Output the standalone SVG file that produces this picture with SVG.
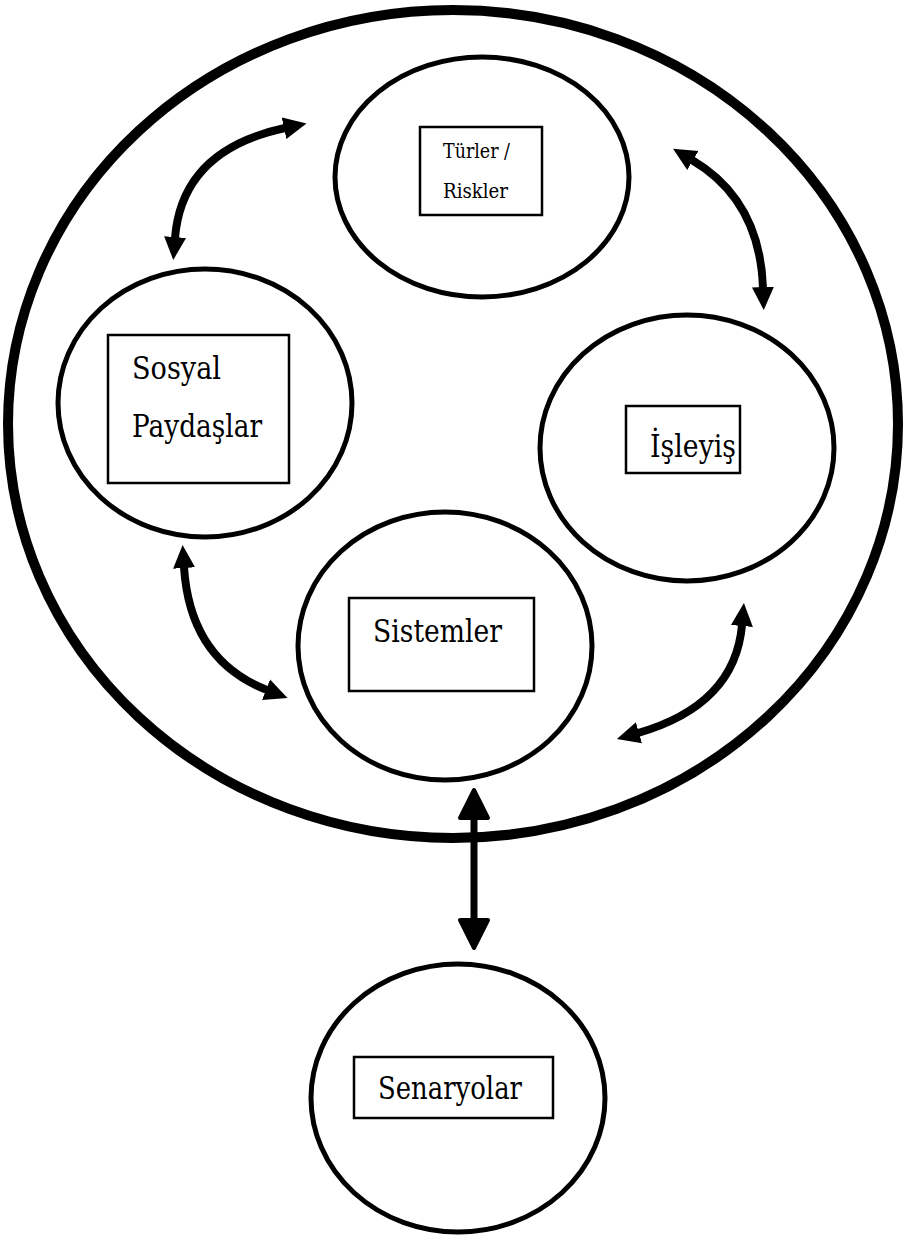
<svg xmlns="http://www.w3.org/2000/svg" width="905" height="1239" viewBox="0 0 905 1239">
  <style>
    .bg { fill: #ffffff; }
    .outer { fill: none; stroke: #000; stroke-width: 10; }
    .node { fill: none; stroke: #000; stroke-width: 5; }
    .box { fill: #fff; stroke: #000; stroke-width: 2.5; }
    text { font-family: 'DejaVu Serif', serif; fill: #000; }
    .label { font-size: 31px; }
    .label-sm { font-size: 21px; }
    .curve { fill: none; stroke: #000; stroke-width: 8; }
    .shaft { fill: none; stroke: #000; stroke-width: 7; }
  </style>
  <defs>
    <marker id="tri" viewBox="0 -12 24 24" refX="1" refY="0" markerWidth="24" markerHeight="24" markerUnits="userSpaceOnUse" orient="auto-start-reverse">
      <path d="M0,-11 L23,0 L0,11 Z" fill="#000"/>
    </marker>
    <marker id="blunt" viewBox="-2 -18 34 36" refX="2" refY="0" markerWidth="34" markerHeight="36" markerUnits="userSpaceOnUse" orient="auto-start-reverse">
      <path d="M0,-14 L28,0 L0,14 Z" fill="#000" stroke="#000" stroke-width="4" stroke-linejoin="round"/>
    </marker>
  </defs>

  <rect class="bg" x="0" y="0" width="905" height="1239"/>

  <!-- enclosing boundary -->
  <g id="boundary">
    <ellipse class="outer" cx="453" cy="424" rx="445" ry="414"/>
  </g>

  <g id="turler">
    <ellipse class="node" cx="482" cy="177" rx="147" ry="120"/>
    <rect class="box" x="420" y="127" width="122" height="88" stroke-width="3"/>
    <text class="label-sm" x="443" y="158" textLength="67" lengthAdjust="spacingAndGlyphs">Türler /</text>
    <text class="label-sm" x="443" y="198" textLength="65" lengthAdjust="spacingAndGlyphs">Riskler</text>
  </g>

  <g id="sosyal">
    <ellipse class="node" cx="205" cy="403" rx="147" ry="134"/>
    <rect class="box" x="108" y="335" width="181" height="148"/>
    <text class="label" x="132" y="379" textLength="89" lengthAdjust="spacingAndGlyphs">Sosyal</text>
    <text class="label" x="132" y="437" textLength="130" lengthAdjust="spacingAndGlyphs">Paydaşlar</text>
  </g>

  <g id="isleyis">
    <ellipse class="node" cx="687" cy="448" rx="147" ry="133"/>
    <rect class="box" x="626" y="406" width="114" height="67"/>
    <text class="label" x="650" y="457" textLength="86" lengthAdjust="spacingAndGlyphs">İşleyiş</text>
  </g>

  <g id="sistemler">
    <ellipse class="node" cx="445" cy="646" rx="147" ry="134"/>
    <rect class="box" x="349" y="598" width="185" height="93"/>
    <text class="label" x="373" y="642" textLength="129" lengthAdjust="spacingAndGlyphs">Sistemler</text>
  </g>

  <g id="senaryolar">
    <ellipse class="node" cx="458" cy="1098" rx="147" ry="134"/>
    <rect class="box" x="354" y="1057" width="199" height="61"/>
    <text class="label" x="378" y="1099" textLength="144" lengthAdjust="spacingAndGlyphs">Senaryolar</text>
  </g>

  <g id="connectors">
    <path class="curve" d="M175,238 Q182,150 285,128" marker-start="url(#tri)" marker-end="url(#tri)"/>
    <path class="curve" d="M692,160 Q760,200 763,288" marker-start="url(#tri)" marker-end="url(#tri)"/>
    <path class="curve" d="M184,567 Q190,660 267,690" marker-start="url(#tri)" marker-end="url(#tri)"/>
    <path class="curve" d="M742,625 Q735,705 638,733" marker-start="url(#tri)" marker-end="url(#tri)"/>
    <path class="shaft" d="M474,816 L474,922" marker-start="url(#blunt)" marker-end="url(#blunt)"/>
  </g>
</svg>
